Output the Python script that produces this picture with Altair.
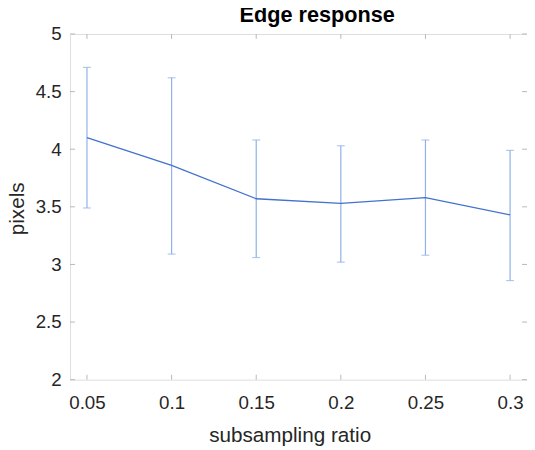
import altair as alt
import pandas as pd

ratio = [0.05, 0.1, 0.15, 0.2, 0.25, 0.3]
mean_px = [4.10, 3.86, 3.57, 3.53, 3.58, 3.43]
upper_px = [4.71, 4.62, 4.08, 4.03, 4.08, 3.99]
lower_px = [3.49, 3.09, 3.06, 3.02, 3.08, 2.86]
y_ticks = [2, 2.5, 3, 3.5, 4, 4.5, 5]

W, H = 464, 351
FONT = "Liberation Sans"
LINE_C = "#4272cc"
BAR_C = "#8fb0e8"
AX_C = "#b8b8b8"

df = pd.DataFrame({"ratio": ratio, "mean": mean_px, "upper": upper_px, "lower": lower_px})
dfx = pd.DataFrame({"ratio": ratio})
dfy = pd.DataFrame({"v": y_ticks})

xs = alt.Scale(domain=[0.04, 0.31], nice=False, zero=False)
ys = alt.Scale(domain=[2, 5], nice=False, zero=False)

xaxis = alt.Axis(values=ratio, format="~g", title="subsampling ratio", domain=False,
                 tickSize=0, labelPadding=14, labelFontSize=19, labelFont=FONT,
                 labelColor="#262626", titleFont=FONT, titleFontSize=21, titleFontWeight="normal",
                 titleColor="#262626", grid=False, titleBaseline="alphabetic",
                 titleY=63, titleX=223, titleAlign="center")
yaxis = alt.Axis(values=y_ticks, format="~g", title="pixels", domain=False,
                 tickSize=0, labelPadding=9, labelFontSize=19, labelFont=FONT,
                 labelColor="#262626", titleFont=FONT, titleFontSize=21, titleFontWeight="normal",
                 titleColor="#262626", grid=False, titleBaseline="alphabetic",
                 titleAngle=-90, titleX=-47, titleY=177, titleAlign="center")

base = alt.Chart(df)

bars = base.mark_rule(color=BAR_C, strokeWidth=1.2).encode(
    x=alt.X("ratio:Q", scale=xs, axis=xaxis),
    y=alt.Y("lower:Q", scale=ys, axis=yaxis),
    y2="upper:Q",
)
cap_hi = base.mark_tick(color=BAR_C, orient="horizontal", size=8, thickness=1.2).encode(
    x=alt.X("ratio:Q", scale=xs), y=alt.Y("upper:Q", scale=ys))
cap_lo = base.mark_tick(color=BAR_C, orient="horizontal", size=8, thickness=1.2).encode(
    x=alt.X("ratio:Q", scale=xs), y=alt.Y("lower:Q", scale=ys))
line = base.mark_line(color=LINE_C, strokeWidth=1.3).encode(
    x=alt.X("ratio:Q", scale=xs), y=alt.Y("mean:Q", scale=ys))

tx_bottom = alt.Chart(dfx).mark_rule(color=AX_C, strokeWidth=1).encode(
    x=alt.X("ratio:Q", scale=xs), y=alt.value(H), y2=alt.value(H - 5))
tx_top = alt.Chart(dfx).mark_rule(color=AX_C, strokeWidth=1).encode(
    x=alt.X("ratio:Q", scale=xs), y=alt.value(0), y2=alt.value(5))
ty_left = alt.Chart(dfy).mark_rule(color=AX_C, strokeWidth=1).encode(
    y=alt.Y("v:Q", scale=ys), x=alt.value(0), x2=alt.value(5))
ty_right = alt.Chart(dfy).mark_rule(color=AX_C, strokeWidth=1).encode(
    y=alt.Y("v:Q", scale=ys), x=alt.value(W - 5), x2=alt.value(W))

chart = alt.layer(tx_bottom, tx_top, ty_left, ty_right, bars, cap_hi, cap_lo, line).properties(
    width=W, height=H,
    title=alt.TitleParams("Edge response", font=FONT, fontSize=22, fontWeight="bold",
                          color="#000000", anchor="middle", dx=19, dy=7, offset=5),
    autosize=alt.AutoSizeParams(type="none"),
    padding={"left": 63, "top": 23, "right": 0, "bottom": 66},
).configure_view(stroke=AX_C, strokeWidth=1).configure(background="white")

chart.save("out.html", embed_options={"renderer": "svg", "actions": False})
